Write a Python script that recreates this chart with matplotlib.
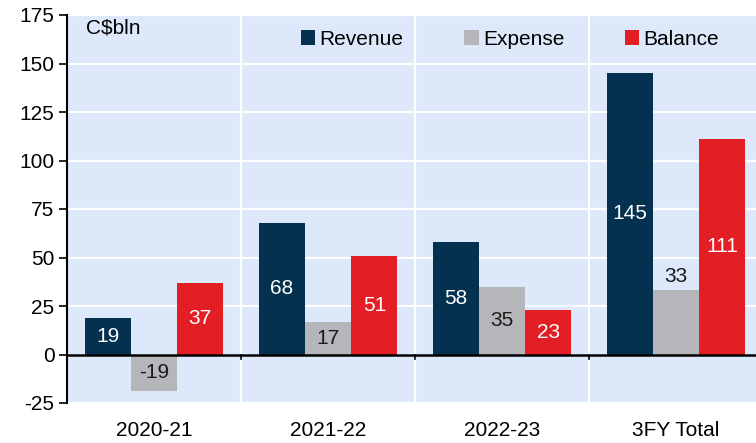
import matplotlib.pyplot as plt
import numpy as np

plt.rcParams['font.family'] = ['Liberation Sans', 'DejaVu Sans']
plt.rcParams['axes.unicode_minus'] = False

# values in C$ billions
periods = ['2020-21', '2021-22', '2022-23', '3FY Total']
revenue = [19, 68, 58, 145]
expense = [-19, 17, 35, 33]
balance = [37, 51, 23, 111]

navy = '#03314f'
grey = '#b5b6ba'
red = '#e31e25'
bg = '#dde9fb'

fig = plt.figure(figsize=(7.56, 4.43), dpi=100)
ax = fig.add_axes([67/756, 1 - 403/443, 696/756, 388/443])
ax.set_facecolor(bg)

x = np.arange(len(periods))
w = 0.266
b1 = ax.bar(x - w, revenue, w, color=navy, label='Revenue', zorder=3)
b2 = ax.bar(x, expense, w, color=grey, label='Expense', zorder=3)
b3 = ax.bar(x + w, balance, w, color=red, label='Balance', zorder=3)

fs = 15
ax.bar_label(b1, labels=[str(v) for v in revenue], label_type='center', color='white', fontsize=fs)
ax.bar_label(b3, labels=[str(v) for v in balance], label_type='center', color='white', fontsize=fs)
# the last expense label sits above its bar, others centered
ax.bar_label(b2, labels=[str(v) for v in expense[:-1]] + [''], label_type='center', color='#1a1a1a', fontsize=fs)
ax.bar_label(b2, labels=[''] * (len(expense) - 1) + [str(expense[-1])], label_type='edge', padding=3, color='#1a1a1a', fontsize=fs)

ax.set_ylim(-25, 175)
ax.set_yticks(np.arange(-25, 176, 25))
ax.set_xlim(-0.5, 3.5)
ax.set_xticks(x)
ax.set_xticklabels(periods)

ax.tick_params(axis='y', labelsize=fs, length=6, width=1.2, direction='out', pad=3)
ax.tick_params(axis='x', which='major', labelsize=fs, length=0, pad=13)

ax.grid(axis='y', color='white', linewidth=1.5, zorder=1)
for bx in x[:-1] + 0.5:
    ax.axvline(bx, color='white', linewidth=1.5, zorder=1)
    ax.plot([bx, bx], [0, -2.5], color='black', linewidth=1.2, zorder=4)
ax.axhline(0, color='black', linewidth=1.8, zorder=4)

for s in ['top', 'right', 'bottom']:
    ax.spines[s].set_visible(False)
ax.spines['left'].set_linewidth(1.5)
ax.set_axisbelow(True)

ax.text(0.027, 0.99, 'C$bln', transform=ax.transAxes, fontsize=fs, va='top', ha='left')

ax.legend(loc='upper left', bbox_to_anchor=(0.324, 0.983), ncol=3, frameon=False,
          fontsize=fs, handlelength=0.7, handleheight=0.7, handletextpad=0.2,
          columnspacing=2.9, borderaxespad=0)

fig.savefig('out.png', dpi=100)
